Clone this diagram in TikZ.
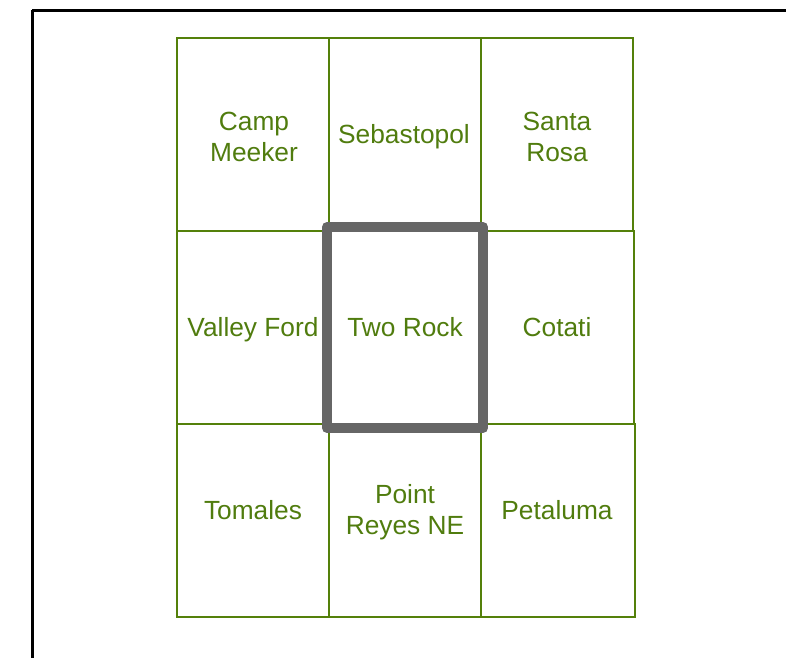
\documentclass[tikz,border=0pt]{standalone}
\usepackage{fontspec}
\setmainfont{Liberation Sans}
\definecolor{gridgreen}{RGB}{84,128,10}
\definecolor{textgreen}{RGB}{80,124,14}
\definecolor{boxgray}{RGB}{102,102,102}
\begin{document}
\begin{tikzpicture}[x=1pt,y=-1pt,
  cell/.style={draw=gridgreen,line width=1.3pt},
  lbltwo/.style={text=textgreen,align=center,font=\fontsize{26.3}{30.5}\selectfont,inner sep=0pt},
  lbl/.style={lbltwo,text height=19pt,text depth=0pt},
  frame/.style={draw=black,line width=3pt},
  sel/.style={draw=boxgray,line width=10pt,line join=round}]
\useasboundingbox (0,0) rectangle (786,657);
\draw[frame] (32,10) -- (800,10);
\draw[frame] (32,10) -- (32,670);
% grid cells
\draw[cell] (177,38) rectangle (329,231);
\draw[cell] (329,38) rectangle (481,231);
\draw[cell] (481,38) rectangle (633,231);
\draw[cell] (177,231) rectangle (329,424);
\draw[cell] (329,231) rectangle (481,424);
\draw[cell] (481,231) rectangle (634,424);
\draw[cell] (177,424) rectangle (329,617);
\draw[cell] (329,424) rectangle (481,617);
\draw[cell] (481,424) rectangle (635,617);
% selection
\draw[sel] (327,227) rectangle (483,428);
% labels
\node[lbltwo] (cm) at (254,137) {Camp\\Meeker};
\node[lbl] (sb) at (404,134) {Sebastopol};
\node[lbltwo] (sr) at (557,137) {Santa\\Rosa};
\node[lbl] (vf) at (253,327) {Valley Ford};
\node[lbl] (tr) at (405,327) {Two Rock};
\node[lbl] (co) at (557,327) {Cotati};
\node[lbl] (to) at (253,510) {Tomales};
\node[lbltwo] (pr) at (405,512) {Point\\Reyes NE};
\node[lbl] (pe) at (557,510) {Petaluma};
\end{tikzpicture}
\end{document}
